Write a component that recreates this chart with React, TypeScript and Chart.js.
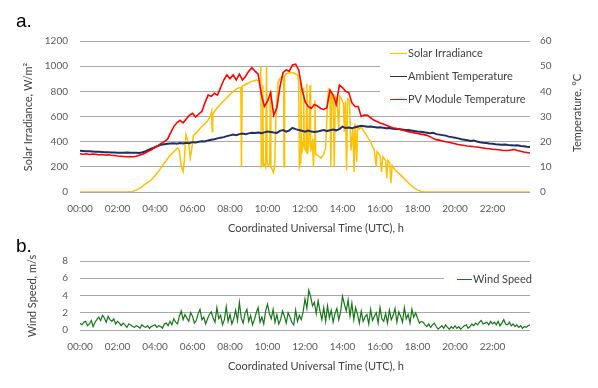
import React, { useEffect, useRef } from 'react';
import { Chart, registerables } from 'chart.js';

Chart.register(...registerables);

// ---------- labels ----------
const TIME_LABELS = ['00:00', '02:00', '04:00', '06:00', '08:00', '10:00', '12:00', '14:00', '16:00', '18:00', '20:00', '22:00'];
const X_TITLE = 'Coordinated Universal Time (UTC), h';
const IRR_TITLE = 'Solar Irradiance, W/m²';
const TEMP_TITLE = 'Temperature, °C';
const WIND_TITLE = 'Wind Speed, m/s';
const SERIES_NAMES = ['Solar Irradiance', 'Ambient Temperature', 'PV Module Temperature'];
const WIND_NAME = 'Wind Speed';

// ---------- solar irradiance (hour, W/m2) ----------
const IRR_HOURS = [
  0, 2.6, 2.8, 3.0, 3.2, 3.4, 3.6, 3.8, 4.0, 4.2, 4.4, 4.6, 4.8, 5.0, 5.2, 5.3, 5.4, 5.5, 5.56, 5.65,
  5.72, 5.8, 5.88, 5.95, 6.05, 6.2, 6.4, 6.6, 6.8, 6.95, 7.02, 7.05, 7.08, 7.3, 7.5, 7.8, 8.1, 8.4, 8.58, 8.61,
  8.65, 8.9, 9.1, 9.4, 9.6, 9.64, 9.67, 9.72, 9.75, 9.78, 9.85, 9.9, 9.95, 9.98, 10.05, 10.12, 10.15, 10.18, 10.25, 10.31,
  10.38, 10.45, 10.55, 10.65, 10.8, 10.86, 10.88, 10.91, 11.0, 11.2, 11.4, 11.6, 11.66, 11.7, 11.75, 11.78, 11.82, 11.9, 11.93, 11.96,
  12.05, 12.1, 12.13, 12.2, 12.27, 12.3, 12.4, 12.45, 12.5, 12.53, 12.57, 12.7, 12.85, 13.0, 13.1, 13.2, 13.25, 13.33, 13.38, 13.42,
  13.5, 13.56, 13.62, 13.7, 13.8, 13.85, 13.95, 14.05, 14.1, 14.15, 14.22, 14.27, 14.37, 14.45, 14.55, 14.62, 14.67, 14.76, 14.8, 14.9,
  15.0, 15.1, 15.25, 15.4, 15.5, 15.6, 15.7, 15.8, 15.84, 16.0, 16.08, 16.15, 16.3, 16.36, 16.42, 16.52, 16.58, 16.65, 16.8, 17.0,
  17.2, 17.4, 17.6, 17.8, 18.0, 18.2, 18.4, 24,
];
const IRR_VALUES = [
  0, 0, 5, 15, 30, 55, 75, 95, 130, 165, 210, 250, 290, 320, 350, 330, 200, 160, 240, 455,
  420, 380, 270, 330, 450, 470, 505, 535, 565, 600, 640, 480, 620, 665, 700, 745, 790, 825, 830, 200,
  840, 860, 875, 890, 880, 1000, 210, 230, 850, 210, 220, 200, 1000, 230, 210, 230, 800, 200, 180, 155,
  200, 600, 860, 900, 920, 900, 200, 920, 940, 950, 945, 930, 880, 200, 230, 870, 300, 400, 830, 350,
  330, 860, 300, 380, 850, 320, 400, 200, 420, 730, 300, 290, 270, 300, 350, 700, 810, 780, 200, 790,
  770, 200, 760, 740, 500, 760, 740, 700, 480, 720, 170, 740, 730, 330, 500, 160, 545, 240, 520, 500,
  520, 490, 460, 420, 400, 360, 330, 200, 320, 290, 160, 280, 250, 110, 250, 230, 70, 210, 175, 150,
  120, 90, 60, 35, 15, 4, 0, 0,
];

// ---------- temperatures, every 10 minutes from 00:00 to 24:00 (°C) ----------
const PV_TEMP = [
  15.2, 15.0, 15.2, 14.9, 15.1, 15.0,
  14.8, 14.9, 14.7, 14.8, 14.6, 14.5,
  14.3, 14.2, 14.1, 14.0, 14.1, 14.0,
  14.2, 14.6, 15.0, 15.6, 16.3, 16.9,
  17.8, 18.5, 19.3, 20.0, 21.0, 23.5,
  26.0, 27.5, 28.5, 27.5, 29.0, 30.5,
  31.3, 29.8, 31.0, 32.0, 35.5, 38.5,
  38.0, 39.2, 38.5, 41.5, 44.5, 46.5,
  45.0, 46.5, 44.5, 46.8, 44.5, 46.0,
  48.0, 49.4, 48.0, 46.8, 39.0, 34.0,
  36.0, 39.5, 30.5, 33.5, 42.0, 47.5,
  48.5, 48.0, 50.5, 50.8, 48.5, 41.0,
  36.0, 34.0, 33.2, 34.8, 34.2, 33.2,
  32.8, 33.5, 40.5, 38.5, 34.8, 42.5,
  41.5, 40.0, 39.5, 35.5, 34.0, 34.0,
  30.0, 30.6, 30.5, 29.5, 28.6, 28.0,
  27.4, 27.0, 26.5, 26.0, 25.5, 25.3,
  25.0, 24.6, 24.3, 24.0, 23.8, 23.5,
  23.3, 23.0, 22.8, 22.5, 22.0, 21.3,
  20.8, 20.6, 20.3, 20.0, 19.8, 19.5,
  19.2, 18.9, 18.7, 18.5, 18.3, 18.2,
  18.0, 17.9, 17.7, 17.5, 17.3, 17.2,
  17.0, 16.9, 16.8, 16.6, 16.5, 16.5,
  16.7, 16.9, 16.5, 16.2, 15.9, 15.7,
  15.5,
];
const AMB_TEMP = [
  16.4, 16.3, 16.2, 16.2, 16.1, 16.0,
  16.0, 15.9, 15.8, 15.8, 15.7, 15.7,
  15.6, 15.6, 15.6, 15.7, 15.6, 15.6,
  15.6, 15.5, 15.8, 16.2, 16.8, 17.3,
  17.8, 18.3, 18.8, 19.0, 19.2, 19.3,
  19.4, 19.2, 19.5, 19.3, 19.6, 19.4,
  19.8, 19.7, 20.0, 20.2, 20.1, 20.5,
  20.8, 21.0, 21.3, 21.6, 21.8, 22.2,
  22.5, 22.8, 22.6, 23.0, 23.2, 23.0,
  23.3, 23.5, 23.4, 23.6, 23.4, 23.7,
  24.0, 23.8, 23.6, 23.5, 24.3, 24.6,
  24.0, 24.5, 25.5, 25.0, 24.6, 24.3,
  24.0, 24.4, 24.0, 23.8, 24.0, 24.3,
  24.6, 24.2, 24.5, 24.8, 24.5, 25.0,
  26.0, 25.4, 25.6, 25.3, 25.7, 26.0,
  26.3, 26.1, 25.9, 26.0, 25.8, 25.6,
  25.7, 25.5, 25.3, 25.4, 25.1, 25.0,
  25.0, 24.8, 24.6, 24.6, 24.4, 24.2,
  24.0, 23.9, 23.7, 23.5, 23.3, 23.5,
  23.0, 22.8, 22.6, 22.4, 22.0, 21.8,
  21.6, 21.3, 21.0, 20.8, 20.6, 20.3,
  20.5, 20.1, 19.8, 19.6, 19.5, 19.3,
  19.2, 19.0, 18.9, 18.8, 18.9, 18.7,
  18.6, 18.5, 18.6, 18.3, 18.2, 18.0,
  17.9,
];

// ---------- wind speed, every 6 minutes from 00:00 to 24:00 (m/s) ----------
const WIND_SPEED = [
  0.8, 0.6, 0.9, 1.0, 0.5, 0.7, 1.1, 0.4, 0.9, 1.2,
  1.5, 1.1, 1.7, 1.4, 0.9, 1.6, 1.2, 1.0, 1.3, 0.7,
  1.0, 0.8, 0.5, 0.8, 0.6, 0.3, 0.7, 0.6, 0.4, 0.3,
  0.5, 0.4, 0.2, 0.6, 0.4, 0.3, 0.5, 0.2, 0.4, 0.5,
  0.6, 0.3, 0.5, 0.4, 0.2, 0.7, 0.8, 0.5, 1.0, 0.6,
  1.3, 0.9, 0.7, 1.6, 2.2, 1.2, 1.8, 1.4, 1.0, 2.0,
  1.6, 0.8, 1.1, 1.9, 2.4, 1.2, 1.5, 0.7, 1.3, 1.8,
  2.1, 1.4, 0.9, 2.6, 1.3, 1.7, 0.6, 1.2, 2.7, 1.0,
  1.8, 0.7, 1.3, 2.3, 1.1, 3.2, 1.4, 0.8, 1.9, 2.4,
  1.0, 1.7, 0.6, 1.2, 2.0, 2.6, 0.9, 1.5, 0.7, 2.2,
  3.0, 1.9, 1.3, 2.4, 0.9, 1.8, 0.7, 1.2, 2.2, 1.6,
  0.8, 2.0, 1.5, 0.9, 0.6, 2.3, 1.0, 1.7, 1.2, 2.1,
  3.6, 2.5, 4.6, 3.9, 2.8, 3.2, 1.9, 3.4, 2.2, 1.2,
  2.6, 1.0, 2.8, 1.4, 2.3, 0.9, 1.9, 2.5, 1.2, 2.1,
  3.9, 3.0, 2.2, 3.5, 1.6, 3.1, 1.2, 2.6, 1.8, 0.8,
  2.2, 1.0, 1.5, 1.8, 0.7, 2.4, 1.1, 1.6, 2.0, 0.8,
  2.6, 1.3, 1.0, 1.9, 0.8, 2.3, 1.2, 1.7, 2.5, 0.9,
  2.1, 1.6, 0.9, 2.6, 1.3, 1.8, 0.8, 2.4, 1.5, 2.0,
  1.4, 0.8, 1.0, 0.9, 0.6, 0.4, 0.7, 0.3, 0.6, 0.8,
  0.4, 0.1, 0.3, 0.5, 0.2, 0.6, 0.3, 0.1, 0.4, 0.2,
  0.5, 0.2, 0.4, 0.1, 0.3, 0.5, 0.6, 0.2, 0.4, 0.7,
  0.5, 0.8, 0.6, 0.9, 1.1, 0.7, 0.8, 0.9, 0.6, 1.0,
  0.7, 0.9, 0.6, 1.0, 0.5, 0.8, 1.2, 0.7, 0.6, 0.9,
  0.5, 0.7, 0.4, 0.6, 0.3, 0.5, 0.2, 0.4, 0.3, 0.5,
  0.6,
];

// ---------- styling ----------
const C_IRR = '#FFC000';
const C_AMB = '#1F2F66';
const C_PV = '#FF0000';
const C_WIND = '#18741A';
const GRID = '#A8A8A8';
const TICK_COLOR = '#595959';
const TITLE_COLOR = '#404040';
const FONT = 'Lato, "Open Sans", sans-serif';

const W = 598;
const A_H = 240;
const B_TOP = 234;
const B_H = 154;

const timeTicks = {
  stepSize: 2,
  autoSkip: false,
  maxRotation: 0,
  padding: 11,
  color: TICK_COLOR,
  font: { family: FONT, size: 10 },
  callback: (v: number) => TIME_LABELS[Math.round(v / 2)] ?? '',
};

function drawRotated(ctx: CanvasRenderingContext2D, text: string, x: number, y: number) {
  ctx.save();
  ctx.translate(x, y);
  ctx.rotate(-Math.PI / 2);
  ctx.textAlign = 'center';
  ctx.textBaseline = 'middle';
  ctx.fillText(text, 0, 0);
  ctx.restore();
}

const decoA = {
  id: 'decoA',
  beforeDatasetsDraw(chart: any) {
    const ctx = chart.ctx as CanvasRenderingContext2D;
    ctx.save();
    ctx.fillStyle = '#ffffff';
    ctx.fillRect(380, 45, 154, 64);
    const cols = [C_IRR, C_AMB, C_PV];
    const ys = [53, 76, 99];
    ctx.font = `11px ${FONT}`;
    ctx.textBaseline = 'middle';
    ctx.textAlign = 'left';
    SERIES_NAMES.forEach((name, i) => {
      ctx.strokeStyle = cols[i];
      ctx.lineWidth = 1;
      ctx.beginPath();
      ctx.moveTo(390, ys[i] + 0.5);
      ctx.lineTo(407, ys[i] + 0.5);
      ctx.stroke();
      ctx.fillStyle = TITLE_COLOR;
      ctx.fillText(name, 408, ys[i]);
    });
    ctx.restore();
  },
  afterDraw(chart: any) {
    const ctx = chart.ctx as CanvasRenderingContext2D;
    ctx.save();
    ctx.fillStyle = TITLE_COLOR;
    ctx.font = `11px ${FONT}`;
    ctx.textAlign = 'center';
    ctx.textBaseline = 'middle';
    ctx.fillText(X_TITLE, 316, 228);
    drawRotated(ctx, IRR_TITLE, 28, 117);
    drawRotated(ctx, TEMP_TITLE, 577, 113);
    ctx.fillStyle = '#000000';
    ctx.font = '19px "Liberation Sans", Arial, sans-serif';
    ctx.textAlign = 'left';
    ctx.textBaseline = 'alphabetic';
    ctx.fillText('a.', 16, 27);
    ctx.restore();
  },
};

const decoB = {
  id: 'decoB',
  beforeDatasetsDraw(chart: any) {
    const ctx = chart.ctx as CanvasRenderingContext2D;
    ctx.save();
    ctx.fillStyle = '#ffffff';
    ctx.fillRect(444, 37, 92, 17);
    ctx.strokeStyle = C_WIND;
    ctx.lineWidth = 1;
    ctx.beginPath();
    ctx.moveTo(457, 45.5);
    ctx.lineTo(472, 45.5);
    ctx.stroke();
    ctx.fillStyle = TITLE_COLOR;
    ctx.font = `11px ${FONT}`;
    ctx.textAlign = 'left';
    ctx.textBaseline = 'middle';
    ctx.fillText(WIND_NAME, 473, 45);
    ctx.restore();
  },
  afterDraw(chart: any) {
    const ctx = chart.ctx as CanvasRenderingContext2D;
    ctx.save();
    ctx.fillStyle = TITLE_COLOR;
    ctx.font = `11px ${FONT}`;
    ctx.textAlign = 'center';
    ctx.textBaseline = 'middle';
    ctx.fillText(X_TITLE, 316, 132);
    drawRotated(ctx, WIND_TITLE, 32, 62);
    ctx.fillStyle = '#000000';
    ctx.font = '19px "Liberation Sans", Arial, sans-serif';
    ctx.textAlign = 'left';
    ctx.textBaseline = 'alphabetic';
    ctx.fillText('b.', 16, 18);
    ctx.restore();
  },
};

export default function App() {
  const refA = useRef<HTMLCanvasElement>(null);
  const refB = useRef<HTMLCanvasElement>(null);

  useEffect(() => {
    const irrData = IRR_HOURS.map((h, i) => ({ x: h, y: IRR_VALUES[i] }));
    const pvData = PV_TEMP.map((v, i) => ({ x: i / 6, y: v }));
    const ambData = AMB_TEMP.map((v, i) => ({ x: i / 6, y: v }));
    const windData = WIND_SPEED.map((v, i) => ({ x: i / 10, y: v }));

    const chartA = new Chart(refA.current as HTMLCanvasElement, {
      type: 'line',
      data: {
        datasets: [
          { label: SERIES_NAMES[2], data: pvData, borderColor: C_PV, borderWidth: 1.6, yAxisID: 'yT', pointRadius: 0 },
          { label: SERIES_NAMES[1], data: ambData, borderColor: C_AMB, borderWidth: 2, yAxisID: 'yT', pointRadius: 0 },
          { label: SERIES_NAMES[0], data: irrData, borderColor: C_IRR, borderWidth: 1.5, yAxisID: 'y', pointRadius: 0 },
        ],
      },
      options: {
        responsive: false,
        maintainAspectRatio: false,
        animation: false,
        devicePixelRatio: 1,
        layout: { padding: { top: 41, left: 0, right: 0, bottom: 0 } },
        elements: { line: { tension: 0 }, point: { radius: 0 } },
        plugins: { legend: { display: false }, tooltip: { enabled: false } },
        scales: {
          x: {
            type: 'linear',
            min: 0,
            max: 24,
            grid: { display: false, drawTicks: false },
            border: { display: false },
            ticks: timeTicks as any,
            afterFit: (s: any) => { s.height = A_H - 192; },
          },
          y: {
            type: 'linear',
            position: 'left',
            min: 0,
            max: 1200,
            grid: { color: GRID, lineWidth: 1, drawTicks: false },
            border: { display: false },
            ticks: { stepSize: 200, padding: 12, color: TICK_COLOR, font: { family: FONT, size: 10 }, callback: (v: any) => String(v) },
            afterFit: (s: any) => { s.width = 80; },
          },
          yT: {
            type: 'linear',
            position: 'right',
            min: 0,
            max: 60,
            grid: { display: false, drawTicks: false },
            border: { display: false },
            ticks: { stepSize: 10, padding: 10, color: TICK_COLOR, font: { family: FONT, size: 10 }, callback: (v: any) => String(v) },
            afterFit: (s: any) => { s.width = W - 530; },
          },
        },
      },
      plugins: [decoA],
    });

    const chartB = new Chart(refB.current as HTMLCanvasElement, {
      type: 'line',
      data: {
        datasets: [
          { label: WIND_NAME, data: windData, borderColor: C_WIND, borderWidth: 1.2, pointRadius: 0 },
        ],
      },
      options: {
        responsive: false,
        maintainAspectRatio: false,
        animation: false,
        devicePixelRatio: 1,
        layout: { padding: { top: 27, left: 0, right: W - 530, bottom: 0 } },
        elements: { line: { tension: 0 }, point: { radius: 0 } },
        plugins: { legend: { display: false }, tooltip: { enabled: false } },
        scales: {
          x: {
            type: 'linear',
            min: 0,
            max: 24,
            grid: { display: false, drawTicks: false },
            border: { display: false },
            ticks: timeTicks as any,
            afterFit: (s: any) => { s.height = B_H - 96; },
          },
          y: {
            type: 'linear',
            position: 'left',
            min: 0,
            max: 8,
            grid: { color: GRID, lineWidth: 1, drawTicks: false },
            border: { display: false },
            ticks: { stepSize: 2, padding: 12, color: TICK_COLOR, font: { family: FONT, size: 10 }, callback: (v: any) => String(v) },
            afterFit: (s: any) => { s.width = 80; },
          },
        },
      },
      plugins: [decoB],
    });

    return () => {
      chartA.destroy();
      chartB.destroy();
    };
  }, []);

  return (
    <div style={{ position: 'absolute', left: 0, top: 0, width: W, height: 388, background: '#ffffff', overflow: 'hidden' }}>
      <canvas ref={refA} width={W} height={A_H} style={{ position: 'absolute', left: 0, top: 0, width: W, height: A_H }} />
      <canvas ref={refB} width={W} height={B_H} style={{ position: 'absolute', left: 0, top: B_TOP, width: W, height: B_H }} />
    </div>
  );
}
